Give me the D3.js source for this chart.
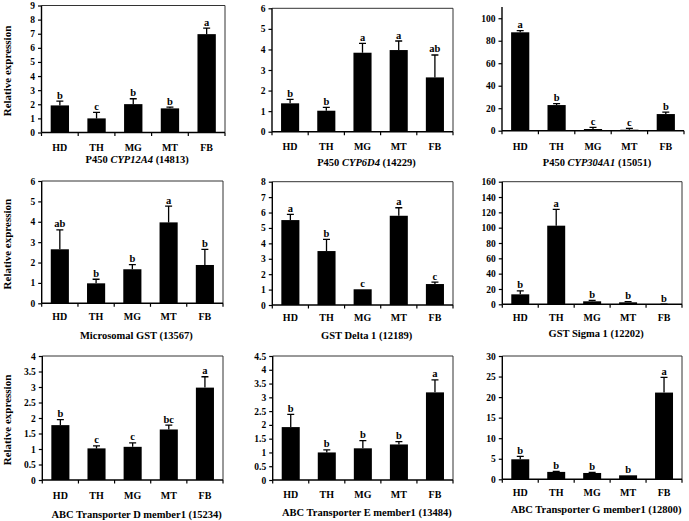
<!DOCTYPE html>
<html>
<head>
<meta charset="utf-8">
<script src="https://cdn.jsdelivr.net/npm/d3@7"></script>
<style>
  html, body { margin: 0; padding: 0; background: #fff; }
  svg { display: block; }
  text { font-family: "Liberation Serif", "Times New Roman", serif; font-weight: bold; fill: #000; }
</style>
</head>
<body>
<svg id="chart" width="689" height="521"></svg>
<script>
// ---------- DATA ----------
const categories = ["HD", "TH", "MG", "MT", "FB"];

const cyp12a4Mean = [1.92, 1.00, 2.01, 1.71, 6.97];
const cyp12a4Err  = [0.31, 0.42, 0.38, 0.09, 0.42];
const cyp12a4Sig  = ["b", "c", "b", "b", "a"];

const cyp6d4Mean = [1.38, 1.02, 3.84, 3.97, 2.64];
const cyp6d4Err  = [0.19, 0.16, 0.45, 0.44, 1.09];
const cyp6d4Sig  = ["b", "b", "a", "a", "ab"];

const cyp304a1Mean = [87.5, 22.8, 1.5, 0.9, 14.8];
const cyp304a1Err  = [1.5, 1.2, 1.5, 1.1, 1.8];
const cyp304a1Sig  = ["a", "b", "c", "c", "b"];

const microGstMean = [2.65, 0.98, 1.67, 3.97, 1.88];
const microGstErr  = [0.95, 0.20, 0.23, 0.80, 0.77];
const microGstSig  = ["ab", "b", "b", "a", "b"];

const gstDeltaMean = [5.51, 3.50, 1.02, 5.79, 1.36];
const gstDeltaErr  = [0.37, 0.76, 0.00, 0.52, 0.13];
const gstDeltaSig  = ["a", "b", "c", "a", "c"];

const gstSigmaMean = [13.0, 102.6, 3.9, 2.6, 0.2];
const gstSigmaErr  = [4.4, 21.4, 1.3, 0.9, 0.1];
const gstSigmaSig  = ["b", "a", "b", "b", "b"];

const abcDMean = [1.77, 1.02, 1.07, 1.63, 2.98];
const abcDErr  = [0.18, 0.08, 0.13, 0.14, 0.35];
const abcDSig  = ["b", "c", "c", "bc", "a"];

const abcEMean = [1.92, 1.00, 1.15, 1.29, 3.18];
const abcEErr  = [0.46, 0.09, 0.28, 0.10, 0.45];
const abcESig  = ["b", "b", "b", "b", "a"];

const abcGMean = [4.87, 1.80, 1.54, 0.97, 21.1];
const abcGErr  = [0.73, 0.15, 0.16, 0.00, 3.7];
const abcGSig  = ["b", "b", "b", "b", "a"];

const titles = [
  [["P450 ", false], ["CYP12A4", true], [" (14813)", false]],
  [["P450 ", false], ["CYP6D4", true], [" (14229)", false]],
  [["P450 ", false], ["CYP304A1", true], [" (15051)", false]],
  [["Microsomal GST (13567)", false]],
  [["GST Delta 1 (12189)", false]],
  [["GST Sigma 1 (12202)", false]],
  [["ABC Transporter D member1 (15234)", false]],
  [["ABC Transporter E member1 (13484)", false]],
  [["ABC Transporter G member1 (12800)", false]]
];
const yMax   = [9, 6, 110, 6, 8, 160, 4, 4.5, 30];
const yTickMax = [9, 6, 100, 6, 8, 160, 4, 4.5, 30];
const yStep  = [1, 1, 20, 1, 1, 20, 0.5, 0.5, 5];
const yAxisTitle = "Relative expression";

const seriesMean = [cyp12a4Mean, cyp6d4Mean, cyp304a1Mean, microGstMean, gstDeltaMean, gstSigmaMean, abcDMean, abcEMean, abcGMean];
const seriesErr  = [cyp12a4Err, cyp6d4Err, cyp304a1Err, microGstErr, gstDeltaErr, gstSigmaErr, abcDErr, abcEErr, abcGErr];
const seriesSig  = [cyp12a4Sig, cyp6d4Sig, cyp304a1Sig, microGstSig, gstDeltaSig, gstSigmaSig, abcDSig, abcESig, abcGSig];

// ---------- LAYOUT ----------
const layout = [
  {x0: 41.5, x1: 225,  yT: 5.5,   yB: 132.5, lab: 147,   tit: 163,   frame: true},
  {x0: 272,  x1: 453,  yT: 8.3,   yB: 131.7, lab: 146,   tit: 166,   frame: true},
  {x0: 502,  x1: 684,  yT: 7,     yB: 130.7, lab: 146,   tit: 166,   frame: false},
  {x0: 41.7, x1: 223,  yT: 181,   yB: 303.3, lab: 316,   tit: 339,   frame: true},
  {x0: 272.3,x1: 453,  yT: 181.7, yB: 305,   lab: 317,   tit: 339,   frame: true},
  {x0: 502.3,x1: 682,  yT: 181.7, yB: 304.3, lab: 317,   tit: 337,   frame: true},
  {x0: 42.3, x1: 223,  yT: 356,   yB: 480,   lab: 495,   tit: 518,   frame: true},
  {x0: 272.7,x1: 453,  yT: 356,   yB: 480,   lab: 494.5, tit: 515.5, frame: true},
  {x0: 502.3,x1: 682,  yT: 356,   yB: 479.3, lab: 492,   tit: 512.5, frame: true}
];

const svg = d3.select("#chart");

layout.forEach((L, i) => {
  const g = svg.append("g");
  const x = d3.scaleBand().domain(categories).range([L.x0, L.x1]).paddingInner(0.5).paddingOuter(0.25);
  const y = d3.scaleLinear().domain([0, yMax[i]]).range([L.yB, L.yT]);
  const ticks = d3.range(0, yTickMax[i] + yStep[i] / 2, yStep[i]);

  // frame
  if (L.frame) {
    g.append("path")
      .attr("d", `M${L.x0},${L.yT}H${L.x1}V${L.yB}`)
      .attr("fill", "none").attr("stroke", "#333").attr("stroke-width", 1);
  }

  // bars
  const data = categories.map((c, k) => ({c, m: seriesMean[i][k], e: seriesErr[i][k], s: seriesSig[i][k]}));
  g.selectAll("rect.bar").data(data).enter().append("rect")
    .attr("x", d => x(d.c))
    .attr("width", x.bandwidth())
    .attr("y", d => y(d.m))
    .attr("height", d => y(0) - y(d.m))
    .attr("fill", "#000");

  // error bars (upper only)
  data.forEach(d => {
    if (d.e <= 0) return;
    const cx = x(d.c) + x.bandwidth() / 2;
    g.append("path")
      .attr("d", `M${cx},${y(d.m)}V${y(d.m + d.e)}M${cx - 3.5},${y(d.m + d.e)}H${cx + 3.5}`)
      .attr("stroke", "#000").attr("stroke-width", 1.3).attr("fill", "none");
  });

  // significance letters
  g.selectAll("text.sig").data(data).enter().append("text")
    .attr("x", d => x(d.c) + x.bandwidth() / 2)
    .attr("y", d => y(d.m + d.e) - 2.5)
    .attr("text-anchor", "middle")
    .attr("font-size", 10.5)
    .text(d => d.s);

  // y axis
  const yAxis = d3.axisLeft(y).tickValues(ticks).tickSize(3.5).tickSizeOuter(0)
    .tickFormat(d3.format("~g"));
  const ga = g.append("g").attr("transform", `translate(${L.x0},0)`).call(yAxis);
  ga.select(".domain").remove();
  ga.append("line").attr("x1", 0).attr("x2", 0).attr("y1", L.yT).attr("y2", L.yB)
    .attr("stroke", "#000").attr("stroke-width", 1.4);
  ga.selectAll(".tick line").attr("stroke", "#000").attr("stroke-width", 1.2);
  ga.selectAll(".tick text")
    .attr("x", -6.5)
    .style("font-family", '"Liberation Serif", "Times New Roman", serif')
    .style("font-weight", "bold").attr("font-size", 9.5).attr("fill", "#000");

  // x axis line & boundary ticks
  const bandStep = x.step();
  g.append("line").attr("x1", L.x0).attr("x2", L.x1).attr("y1", L.yB).attr("y2", L.yB)
    .attr("stroke", "#000").attr("stroke-width", 1.4);
  const bounds = d3.range(0, categories.length + 1).map(k => L.x0 + k * (L.x1 - L.x0) / categories.length);
  g.selectAll("line.xt").data(bounds).enter().append("line")
    .attr("x1", d => d).attr("x2", d => d).attr("y1", L.yB).attr("y2", L.yB + 3.5)
    .attr("stroke", "#000").attr("stroke-width", 1.2);

  // category labels
  g.selectAll("text.cat").data(categories).enter().append("text")
    .attr("x", d => x(d) + x.bandwidth() / 2)
    .attr("y", L.lab)
    .attr("dy", "0.35em")
    .attr("text-anchor", "middle")
    .attr("font-size", 10)
    .text(d => d);

  // title
  const t = g.append("text")
    .attr("x", (L.x0 + L.x1) / 2 + 4)
    .attr("y", L.tit)
    .attr("text-anchor", "middle")
    .attr("font-size", 10.5);
  titles[i].forEach(([s, it]) => {
    t.append("tspan").attr("font-style", it ? "italic" : "normal").text(s);
  });

  // y axis title on first column
  if (i % 3 === 0) {
    g.append("text")
      .attr("transform", `translate(11,${(L.yT + L.yB) / 2 + 2}) rotate(-90)`)
      .attr("text-anchor", "middle")
      .attr("font-size", 11)
      .text(yAxisTitle);
  }
});
</script>
</body>
</html>
